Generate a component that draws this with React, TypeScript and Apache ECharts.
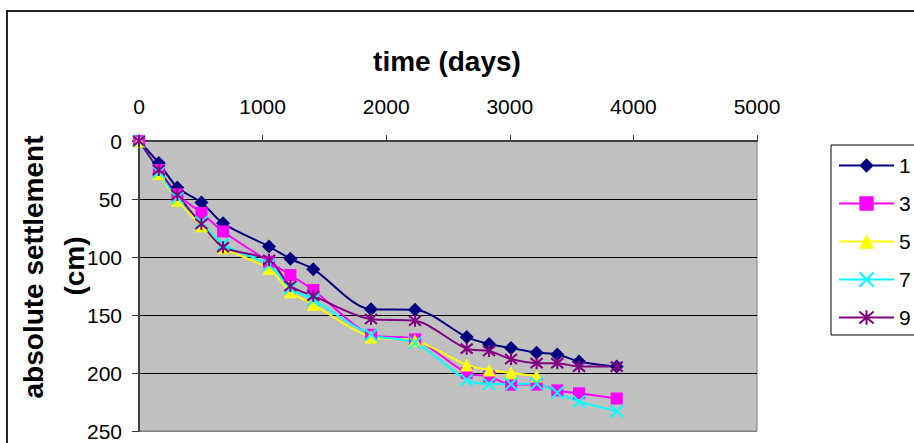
import React, { useEffect, useRef } from "react";
import * as echarts from "echarts";

const days = [0, 160, 310, 505, 680, 1052, 1225, 1410, 1877, 2233, 2651, 2832, 3010, 3217, 3384, 3560, 3865];
const seriesNames = ["1", "3", "5", "7", "9"];
const s1 = [0, 19, 40, 53, 71, 91, 101.5, 110.5, 145, 145.5, 169, 175, 178.5, 182.5, 184, 190, 194.5];
const s3 = [0, 25, 46, 62, 78, 104, 115.5, 128.5, 167, 171, 200, 203, 210, 210, 215, 217.5, 222];
const s5 = [0, 28, 51, 73, 92, 110, 130, 141, 169, 172, 193, 197.5, 200, 202.5];
const s7 = [0, 27, 49, 70, 89, 107, 127, 137, 167, 174, 206, 209.5, 209.5, 209, 217, 224.5, 233];
const s9 = [0, 25, 46.5, 71.5, 91.5, 102.5, 125, 133.5, 153.5, 155, 179, 181, 188, 191.5, 191.5, 194.5, 194.5];
const xTicks = { min: 0, max: 5000, interval: 1000 };
const yTicks = { min: 0, max: 250, interval: 50 };

const FONT = "Liberation Sans, Arial, sans-serif";

export default function App() {
  const ref = useRef<HTMLDivElement>(null);
  useEffect(() => {
    if (!ref.current) return;
    const chart = echarts.init(ref.current, null, { renderer: "svg" });
    const allVals = [s1, s3, s5, s7, s9];
    const colors = ["#000080", "#FF00FF", "#FFFF00", "#00FFFF", "#800080"];
    const symbols = [
      "diamond",
      "rect",
      "triangle",
      "path://M0,0L10,10M10,0L0,10",
      "path://M0,0L10,10M10,0L0,10M5,-1L5,11",
    ];
    const sizes = [14, 12, 13, 12, 12];
    const series = allVals.map((vals, i) => ({
      name: seriesNames[i],
      type: "line",
      smooth: 0.3,
      symbol: symbols[i],
      symbolSize: sizes[i],
      data: vals.map((v, j) => [days[j], v]),
      lineStyle: { color: colors[i], width: 2 },
      itemStyle: {
        color: colors[i],
        borderColor: colors[i],
        borderWidth: i >= 3 ? 2 : 0,
      },
    }));
    chart.setOption({
      animation: false,
      backgroundColor: "#ffffff",
      textStyle: { fontFamily: FONT },
      grid: {
        left: 139,
        top: 141,
        right: 914 - 757,
        bottom: 443 - 431,
        show: true,
        backgroundColor: "#C0C0C0",
        borderColor: "#808080",
        borderWidth: 1,
      },
      xAxis: {
        type: "value",
        position: "top",
        min: xTicks.min,
        max: xTicks.max,
        interval: xTicks.interval,
        axisLine: { show: true, lineStyle: { color: "#404040", width: 2 } },
        axisTick: { show: true, length: 6, lineStyle: { color: "#404040", width: 1 } },
        axisLabel: {
          color: "#000",
          fontSize: 21,
          fontFamily: FONT,
          margin: 24,
          formatter: (v: number) => String(v),
        },
        splitLine: { show: false },
      },
      yAxis: {
        type: "value",
        inverse: true,
        min: yTicks.min,
        max: yTicks.max,
        interval: yTicks.interval,
        axisLine: { show: true, lineStyle: { color: "#404040", width: 2 } },
        axisTick: { show: true, length: 7, lineStyle: { color: "#404040", width: 1 } },
        axisLabel: {
          color: "#000",
          fontSize: 21,
          fontFamily: FONT,
          margin: 17,
          formatter: (v: number) => String(v),
        },
        splitLine: {
          show: true,
          lineStyle: { color: ["#000", "#000", "#000", "#000", "#000", "#808080"], width: 1 },
        },
      },
      legend: {
        orient: "vertical",
        left: 838,
        top: 155,
        padding: 0,
        itemWidth: 55,
        itemHeight: 18,
        itemGap: 17,
        textStyle: { color: "#000", fontSize: 21, fontFamily: FONT, lineHeight: 20 },
        data: seriesNames,
      },
      graphic: [
        {
          type: "rect",
          shape: { x: 7, y: 11, width: 950, height: 500 },
          style: { fill: "none", stroke: "#222", lineWidth: 2 },
          silent: true,
          z: 0,
        },
        {
          type: "rect",
          shape: { x: 831, y: 145, width: 120, height: 190 },
          style: { fill: "#fff", stroke: "#000", lineWidth: 1 },
          silent: true,
          z: 1,
        },
        {
          type: "text",
          x: 447,
          y: 61,
          style: {
            text: "time (days)",
            font: "bold 28px " + FONT,
            fill: "#000",
            textAlign: "center",
            textVerticalAlign: "middle",
          },
        },
        {
          type: "text",
          x: 33,
          y: 267,
          rotation: Math.PI / 2,
          style: {
            text: "absolute settlement",
            font: "bold 28px " + FONT,
            fill: "#000",
            textAlign: "center",
            textVerticalAlign: "middle",
          },
        },
        {
          type: "text",
          x: 74,
          y: 266,
          rotation: Math.PI / 2,
          style: {
            text: "(cm)",
            font: "bold 28px " + FONT,
            fill: "#000",
            textAlign: "center",
            textVerticalAlign: "middle",
          },
        },
      ],
      series,
    });
    return () => chart.dispose();
  }, []);
  return (
    <div
      ref={ref}
      style={{ position: "absolute", left: 0, top: 0, width: 914, height: 443 }}
    />
  );
}
